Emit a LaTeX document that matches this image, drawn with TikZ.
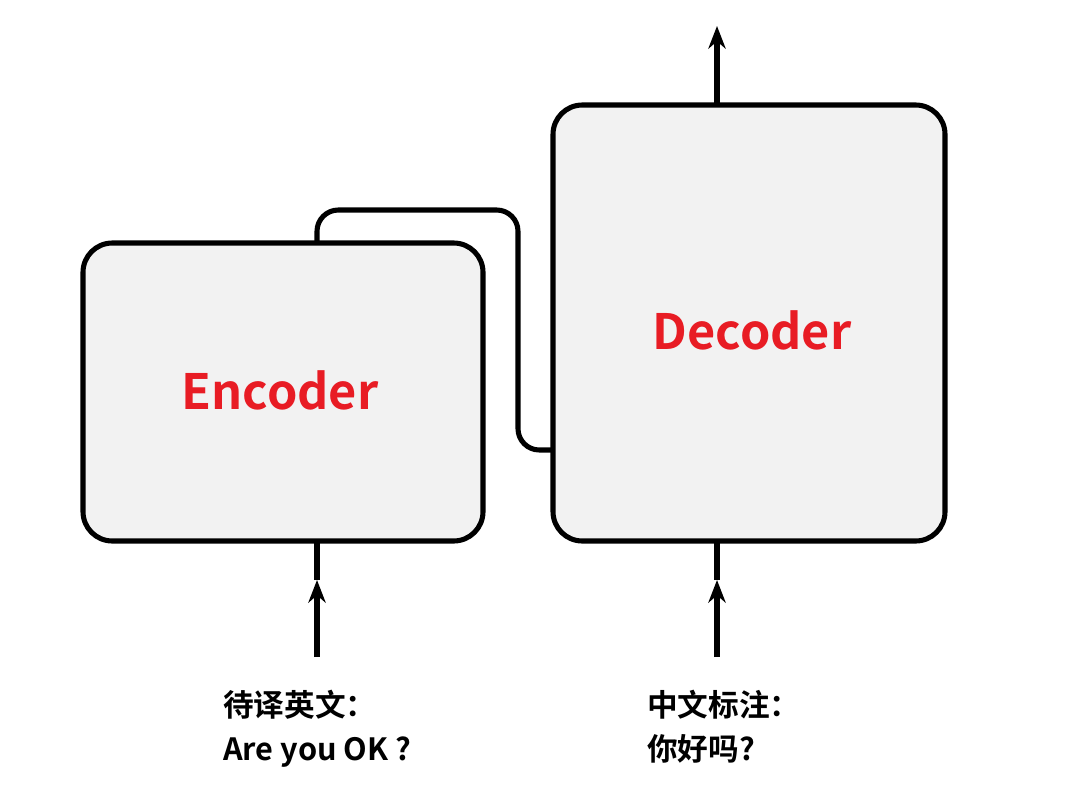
\documentclass[tikz,border=0pt]{standalone}
\usepackage{fontspec}
\setmainfont{Noto Sans CJK SC}[BoldFont={* Bold}]
\newfontfamily\cjk{Noto Sans CJK SC Bold}
\usetikzlibrary{arrows.meta}
\definecolor{boxfill}{RGB}{242,242,242}
\definecolor{txtred}{RGB}{232,28,36}
\tikzset{
  blockbox/.style={draw=black, line width=3.8pt, fill=boxfill, rounded corners=22pt},
  conn/.style={draw=black, line width=3.8pt},
  arr/.style={conn, -{Stealth[length=17pt,width=13pt]}},
  bigtxt/.style={text=txtred, font=\cjk\fontsize{36.5}{44}\selectfont},
  lbl/.style={anchor=north west, align=left, inner sep=0pt, font=\cjk\fontsize{23}{33}\selectfont},
}
\begin{document}
\begin{tikzpicture}[x=0.75pt,y=-0.75pt]
\useasboundingbox (0,0) rectangle (1080,811);
% boxes
\draw[blockbox] (83,243) rectangle (483,541);
\draw[blockbox] (553,105) rectangle (945,541);
\node[bigtxt] (enc) at (280,390) {Encoder};
\node[bigtxt] (dec) at (752,330) {Decoder};
% connector
\coordinate (ctop) at (317,243);
\coordinate (cend) at (553,450);
\draw[conn, rounded corners=16pt] (ctop) -- (317,210) -- (518,210) -- (518,450) -- (cend);
% inputs
\coordinate (ein0) at (317,657);
\coordinate (ein1) at (317,580);
\coordinate (ein2) at (317,541);
\draw[arr] (ein0) -- (ein1);
\draw[conn] (ein1) -- (ein2);
\coordinate (din0) at (717,657);
\coordinate (din1) at (717,580);
\coordinate (din2) at (717,541);
\draw[arr] (din0) -- (din1);
\draw[conn] (din1) -- (din2);
% output
\coordinate (dout0) at (717,105);
\coordinate (dout1) at (717,26);
\draw[arr] (dout0) -- (dout1);
% labels
\node[lbl] (l1) at (223,690) {待译英文：\\Are you OK ?};
\node[lbl] (l2) at (647,690) {中文标注：\\你好吗?};
\end{tikzpicture}
\end{document}
